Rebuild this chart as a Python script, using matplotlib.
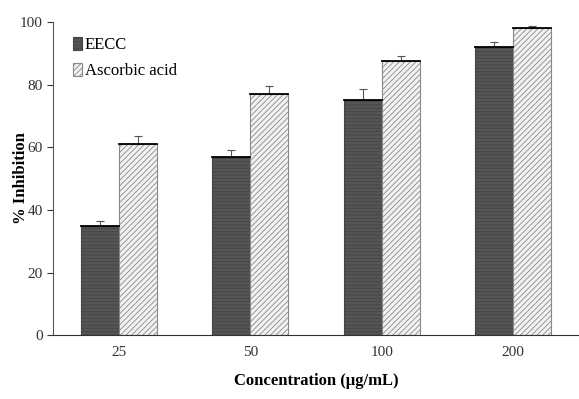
import matplotlib
matplotlib.use("Agg")
import matplotlib.pyplot as plt
import numpy as np

plt.rcParams['font.family'] = ['Liberation Serif', 'DejaVu Serif']
plt.rcParams['hatch.linewidth'] = 0.6
plt.rcParams['hatch.color'] = '#9a9a9a'

categories = ['25', '50', '100', '200']
eecc = [35, 57, 75, 92]
eecc_err = [1.5, 2, 3.5, 1.5]
ascorbic = [61, 77, 87.5, 98]
ascorbic_err = [2.5, 2.5, 1.5, 0.8]

fig = plt.figure(figsize=(5.79, 3.99), dpi=100)
ax = fig.add_axes([0.0915, 0.16, 0.9085, 0.785])

x = np.arange(len(categories))
w = 0.29

ekw = dict(ecolor='#555555', capsize=3, elinewidth=0.8, capthick=0.8)
b1 = ax.bar(x - w/2, eecc, w, color='#555555', edgecolor='#444444', hatch='-----', linewidth=0.8,
            yerr=[np.zeros(4), eecc_err], error_kw=ekw, label='EECC')
b2 = ax.bar(x + w/2, ascorbic, w, color='#f2f2f2', edgecolor='#888888', hatch='//////', linewidth=0.8,
            yerr=[np.zeros(4), ascorbic_err], error_kw=ekw, label='Ascorbic acid')
# dark top edge on each bar
for r in list(b1) + list(b2):
    ax.plot([r.get_x(), r.get_x() + r.get_width()], [r.get_height()] * 2, color='black', lw=1.3)

ax.set_xlim(-0.5, 3.5)
ax.set_ylim(0, 100)
ax.set_yticks(range(0, 101, 20))
ax.set_xticks(x)
ax.set_xticklabels(categories)
ax.tick_params(axis='both', labelsize=11, colors='#333333', length=4)
ax.tick_params(axis='x', length=0, pad=8)
for s in ['top', 'right']:
    ax.spines[s].set_visible(False)
ax.spines['left'].set_color('#555555')
ax.spines['bottom'].set_color('#333333')

ax.set_ylabel('% Inhibition', fontsize=12, fontweight='bold')
ax.yaxis.set_label_coords(-0.046, 0.5)
ax.set_xlabel('Concentration (µg/mL)', fontsize=12, fontweight='bold', labelpad=10)

ax.legend(loc='upper left', bbox_to_anchor=(0.01, 1.0), frameon=False, fontsize=12,
          handlelength=0.55, handleheight=0.8, handletextpad=0.15, labelspacing=0.6)

fig.savefig('out.png', dpi=100)
